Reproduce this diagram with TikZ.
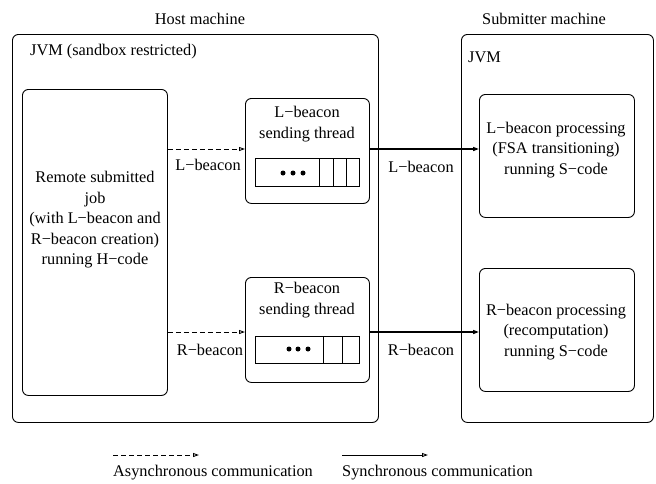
\documentclass[tikz,border=0pt]{standalone}
\usepackage{fontspec}
\setmainfont{Liberation Serif}
\usetikzlibrary{arrows.meta}
\begin{document}
\begin{tikzpicture}[x=1pt,y=-1pt,
  font=\fontsize{16.3}{20.5}\selectfont,
  frame/.style={draw, rounded corners=6pt, line width=0.9pt, anchor=north west, inner sep=0pt},
  queue/.style={draw, line width=0.9pt, anchor=north west, inner sep=0pt},
  txt/.style={inner sep=0pt, align=center},
  tip/.style={-{Triangle[open,length=6pt,width=4pt]}},
  async/.style={tip, dash pattern=on 5pt off 3pt, line width=0.9pt},
  sync/.style={tip, line width=1.4pt},
  qdot/.style={fill=black, draw=none, circle, minimum size=5pt, inner sep=0pt}]
\useasboundingbox (0,0) rectangle (656,483);
% outer machines
\node[frame, minimum width=366pt, minimum height=388pt] (host) at (12,34) {};
\node[frame, minimum width=192pt, minimum height=388pt] (sub) at (461,34) {};
\node[txt] (hosttitle) at (200,19) {Host machine};
\node[txt] (subtitle) at (544,19) {Submitter machine};
\node[txt, anchor=west] (jvmh) at (30,52) {JVM (sandbox restricted)};
\node[txt, anchor=west] (jvms) at (468,57) {JVM};
% inner boxes
\node[frame, minimum width=145pt, minimum height=306pt] (job) at (22,89) {};
\node[txt] (jobtxt) at (95,220) {Remote submitted\\job\\(with L\char"2212 beacon and\\R\char"2212 beacon creation)\\running H\char"2212 code};
\node[frame, minimum width=124pt, minimum height=105pt] (lth) at (245,98) {};
\node[txt] (lthtxt) at (307,124) {L\char"2212 beacon\\sending thread};
\node[frame, minimum width=124pt, minimum height=105pt] (rth) at (245,277) {};
\node[txt] (rthtxt) at (307,300) {R\char"2212 beacon\\sending thread};
\node[frame, minimum width=155pt, minimum height=123pt] (lpr) at (479,94) {};
\node[txt] (lprtxt) at (556,150) {L\char"2212 beacon processing\\(FSA transitioning)\\running S\char"2212 code};
\node[frame, minimum width=155pt, minimum height=123pt] (rpr) at (479,268) {};
\node[txt] (rprtxt) at (556,332) {R\char"2212 beacon processing\\(recomputation)\\running S\char"2212 code};
% queues
\node[queue, minimum width=104pt, minimum height=28pt] (lq) at (255,158) {};
\draw[line width=0.9pt] (319,158) -- (319,186) (333,158) -- (333,186) (346,158) -- (346,186);
\node[qdot] (ld1) at (283,173) {};
\node[qdot] (ld2) at (293,173) {};
\node[qdot] (ld3) at (303,173) {};
\node[queue, minimum width=104pt, minimum height=27pt] (rq) at (255,336) {};
\draw[line width=0.9pt] (323,336) -- (323,363) (342,336) -- (342,363);
\node[qdot] (rd1) at (289,349) {};
\node[qdot] (rd2) at (298,349) {};
\node[qdot] (rd3) at (308,349) {};
% connectors
\draw[async] (job.east |- 0,149) -- (lth.west |- 0,149);
\draw[async] (job.east |- 0,332) -- (rth.west |- 0,332);
\draw[sync] (lth.east |- 0,149) -- (lpr.west |- 0,149);
\draw[sync] (rth.east |- 0,332) -- (rpr.west |- 0,332);
\node[txt] (la) at (208,165) {L\char"2212 beacon};
\node[txt] (ra) at (210,350) {R\char"2212 beacon};
\node[txt] (ls) at (421,167) {L\char"2212 beacon};
\node[txt] (rs) at (421,350) {R\char"2212 beacon};
% legend
\coordinate (a1) at (113,455);
\coordinate (a2) at (199,455);
\coordinate (s1) at (342,455);
\coordinate (s2) at (428,455);
\draw[async] (a1) -- (a2);
\draw[tip, line width=0.9pt] (s1) -- (s2);
\node[txt, anchor=base west] (at) at (113,476) {Asynchronous communication};
\node[txt, anchor=base west] (st) at (342,476) {Synchronous communication};
\end{tikzpicture}
\end{document}
